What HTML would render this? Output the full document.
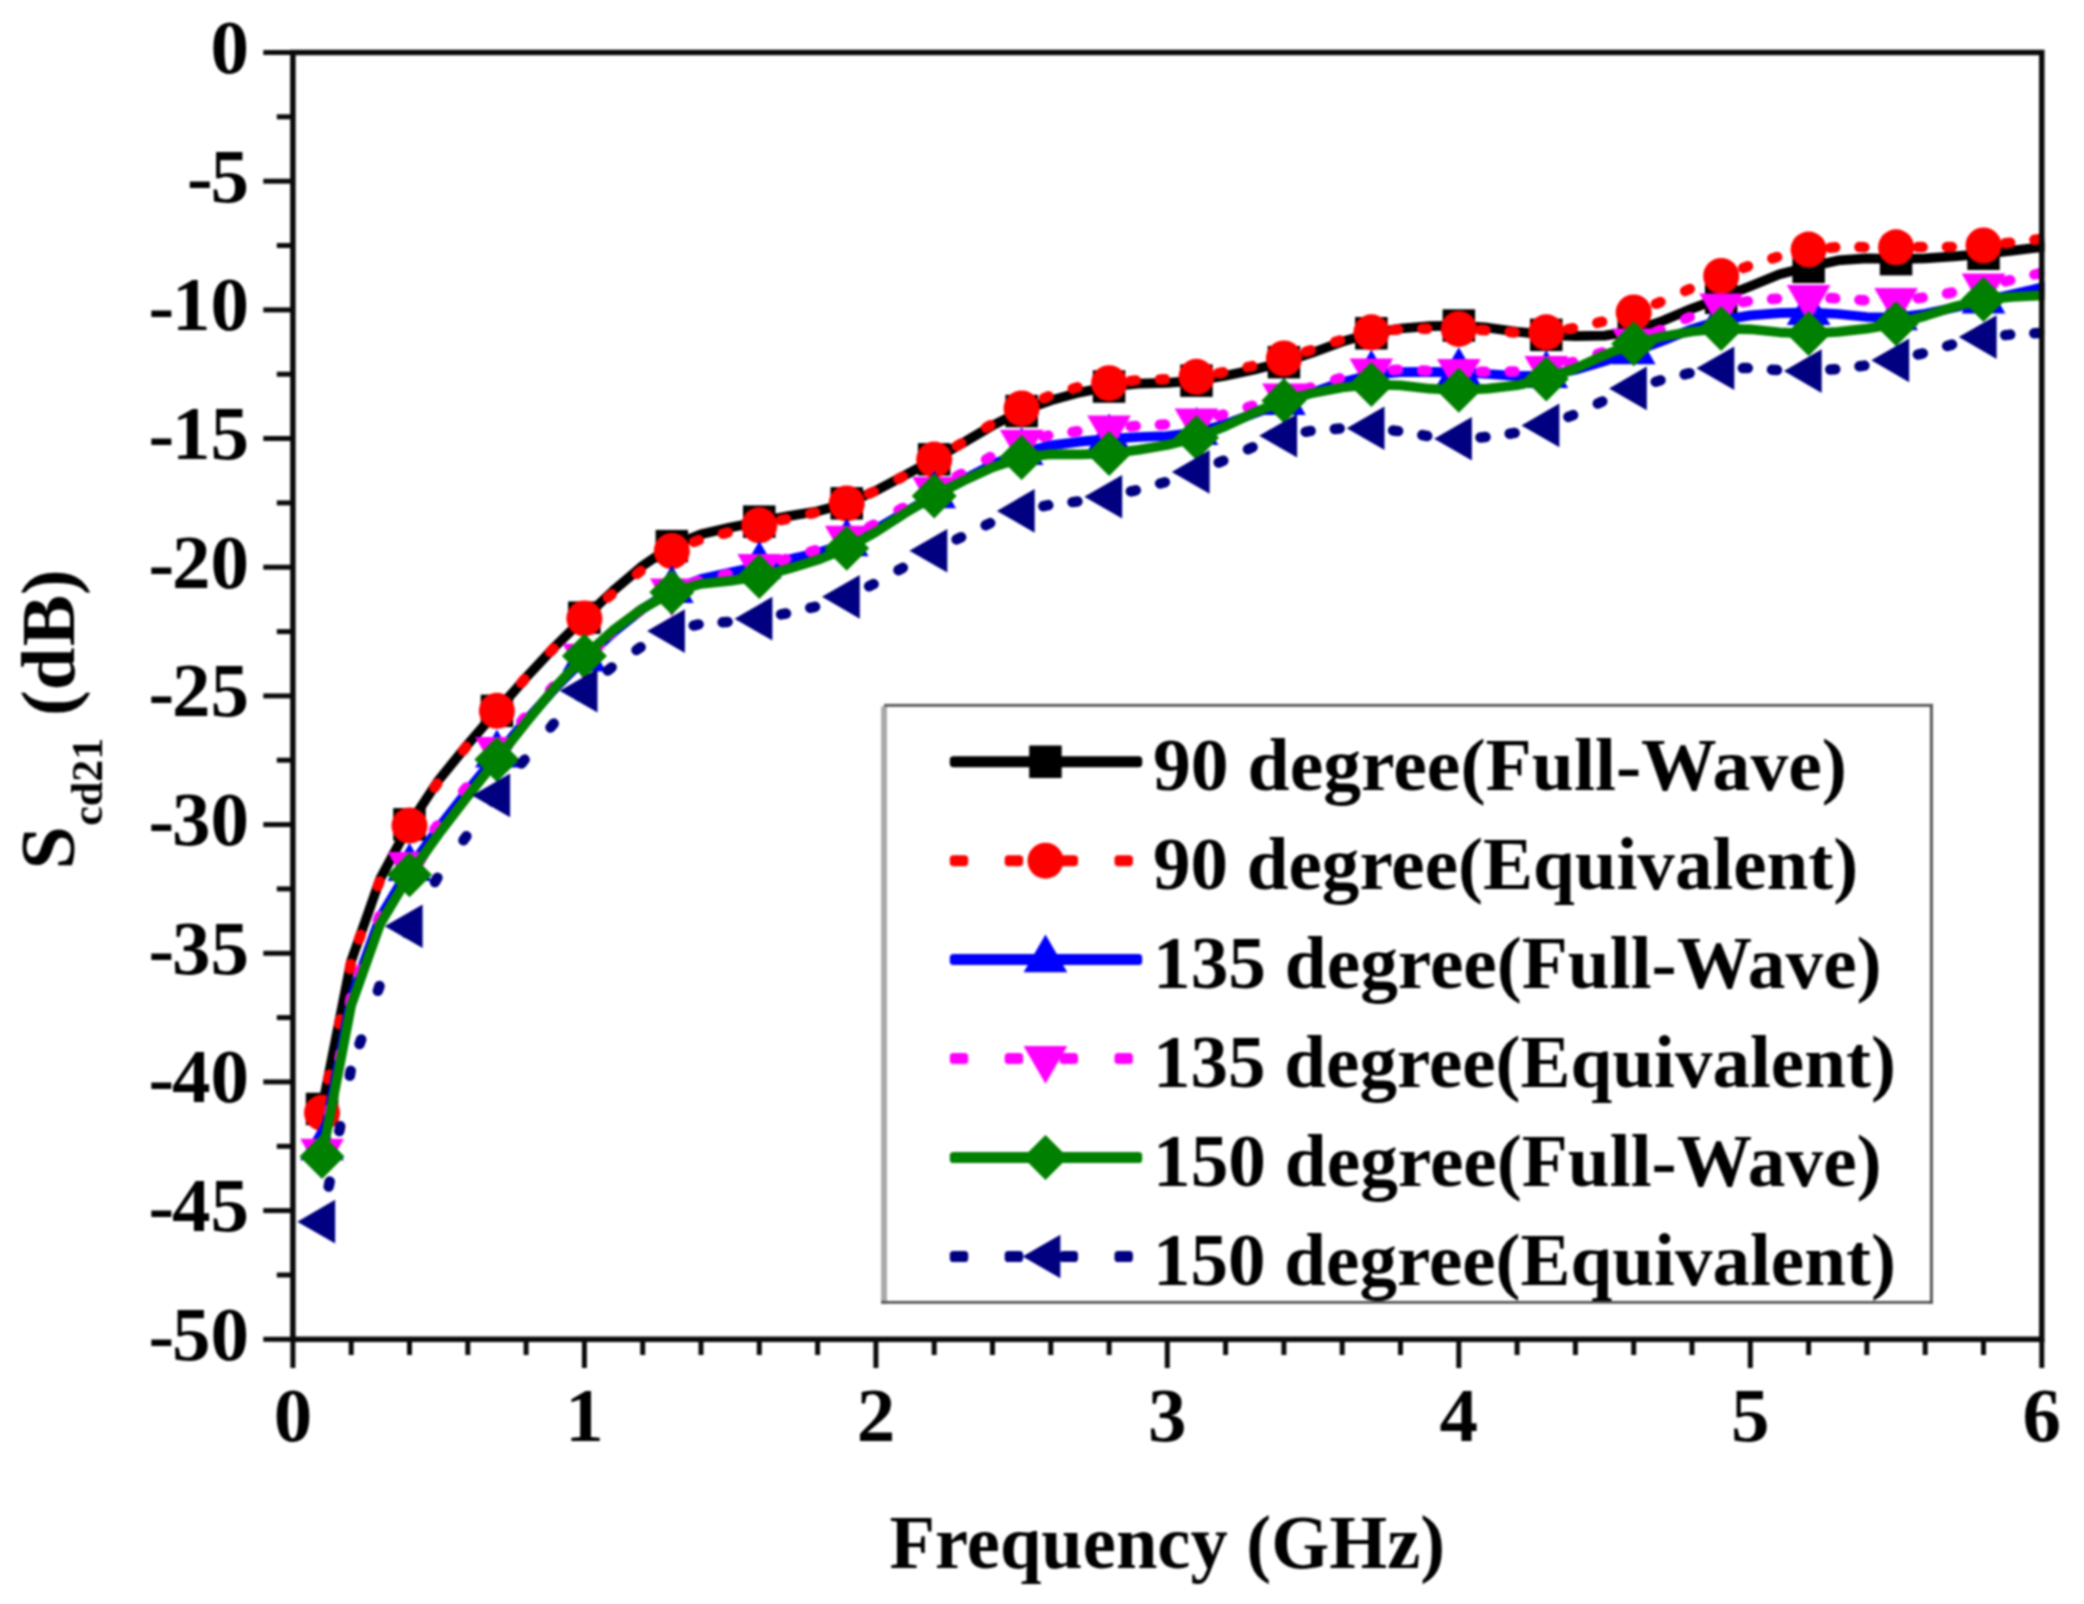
<!DOCTYPE html>
<html lang="en"><head><meta charset="utf-8"><title>Scd21 vs Frequency</title>
<style>html,body{margin:0;padding:0;background:#fff;}svg{display:block;filter:blur(0.8px);}text{font-family:"Liberation Serif","Times New Roman",serif;font-weight:bold;fill:#000;}</style>
</head><body>
<svg width="2084" height="1604" viewBox="0 0 2084 1604">
<rect width="2084" height="1604" fill="#fff"/>
<defs><clipPath id="plotclip"><rect x="292.9" y="52.5" width="1751.7" height="1286.8"/></clipPath></defs>
<g clip-path="url(#plotclip)">
<path d="M322.0,1109.0L351.2,961.0L380.3,878.6L409.5,824.3L438.6,780.2L467.8,744.4L496.9,710.8L526.1,677.5L555.2,646.4L584.4,617.7L613.5,590.5L642.7,565.7L671.8,546.1L701.0,534.2L730.1,527.6L759.3,521.7L788.4,516.1L817.6,511.2L846.7,503.4L875.9,490.8L905.0,475.3L934.2,459.4L963.3,442.7L992.5,425.5L1021.6,411.0L1050.8,400.4L1079.9,392.4L1109.1,386.6L1138.2,383.7L1167.3,382.9L1196.5,380.6L1225.6,375.8L1254.8,369.5L1283.9,362.1L1313.1,352.5L1342.2,341.7L1371.4,333.3L1400.5,328.5L1429.7,326.1L1458.8,325.6L1488.0,327.7L1517.1,331.7L1546.3,334.8L1575.4,336.1L1604.6,335.6L1633.7,331.0L1662.9,320.7L1692.0,308.6L1721.2,297.8L1750.3,286.2L1779.5,274.3L1808.6,266.9L1837.8,260.4L1866.9,258.4L1896.1,259.2L1925.2,258.4L1954.4,256.4L1983.5,253.8L2012.7,250.6L2041.8,247.1L2070.9,243.7" fill="none" stroke="#000000" stroke-width="9.7" stroke-linejoin="round"/>
<rect x="305.8" y="1092.7" width="32.5" height="32.5" fill="#000000"/>
<rect x="393.2" y="808.1" width="32.5" height="32.5" fill="#000000"/>
<rect x="480.7" y="694.6" width="32.5" height="32.5" fill="#000000"/>
<rect x="568.1" y="601.4" width="32.5" height="32.5" fill="#000000"/>
<rect x="655.6" y="529.9" width="32.5" height="32.5" fill="#000000"/>
<rect x="743.0" y="505.4" width="32.5" height="32.5" fill="#000000"/>
<rect x="830.5" y="487.1" width="32.5" height="32.5" fill="#000000"/>
<rect x="917.9" y="443.1" width="32.5" height="32.5" fill="#000000"/>
<rect x="1005.4" y="394.8" width="32.5" height="32.5" fill="#000000"/>
<rect x="1092.8" y="370.3" width="32.5" height="32.5" fill="#000000"/>
<rect x="1180.2" y="364.4" width="32.5" height="32.5" fill="#000000"/>
<rect x="1267.7" y="345.9" width="32.5" height="32.5" fill="#000000"/>
<rect x="1355.1" y="317.0" width="32.5" height="32.5" fill="#000000"/>
<rect x="1442.6" y="309.3" width="32.5" height="32.5" fill="#000000"/>
<rect x="1530.0" y="318.6" width="32.5" height="32.5" fill="#000000"/>
<rect x="1617.5" y="314.7" width="32.5" height="32.5" fill="#000000"/>
<rect x="1704.9" y="281.5" width="32.5" height="32.5" fill="#000000"/>
<rect x="1792.4" y="250.6" width="32.5" height="32.5" fill="#000000"/>
<rect x="1879.8" y="242.9" width="32.5" height="32.5" fill="#000000"/>
<rect x="1967.3" y="237.5" width="32.5" height="32.5" fill="#000000"/>
<path d="M350.7,964.0L349.8,968.9M340.1,1019.3L339.1,1024.2M329.4,1074.7L328.4,1079.6M379.5,881.5L377.8,886.2M360.7,934.7L359.0,939.4M408.3,827.8L405.9,832.2M437.3,783.5L434.5,787.7M466.2,746.8L463.1,750.7M495.3,712.7L492.1,716.5M524.4,679.3L521.2,683.1M553.5,648.4L550.1,652.0M582.6,620.2L579.0,623.6M611.7,594.2L607.9,597.5M640.7,571.0L636.8,574.1M669.7,552.3L665.5,555.0M698.7,540.1L694.0,542.0M727.7,532.6L722.8,533.8M756.8,525.8L752.0,527.0M786.0,519.1L781.1,520.2M815.1,512.7L810.2,513.8M844.3,504.1L839.5,505.6M873.6,491.7L869.0,493.7M902.8,476.7L898.4,479.0M932.0,460.8L927.6,463.2M961.2,443.4L956.9,446.0M990.3,425.2L986.1,427.8M1019.4,409.6L1015.0,411.9M1048.5,396.3L1043.9,398.4M1077.5,387.3L1072.7,388.7M1106.6,383.5L1101.6,384.1M1135.7,380.4L1130.7,380.9M1164.9,379.2L1159.9,379.4M1194.0,377.0L1189.0,377.4M1223.2,372.3L1218.3,373.1M1252.4,366.1L1247.5,367.2M1281.5,359.1L1276.7,360.3M1310.7,350.2L1305.9,351.7M1339.9,340.4L1335.1,342.0M1369.0,332.9L1364.1,334.1M1398.1,329.5L1393.1,330.0M1427.2,328.7L1422.2,328.8M1456.3,328.9L1451.3,328.8M1485.5,330.3L1480.5,330.0M1514.6,332.4L1509.7,332.0M1543.8,332.3L1538.8,332.3M1573.0,328.3L1568.0,329.1M1602.1,321.7L1597.3,322.9M1631.3,313.1L1626.5,314.6M1660.5,302.0L1655.9,303.8M1689.7,289.0L1685.2,291.0M1718.9,276.8L1714.2,278.8M1748.0,266.3L1743.3,268.0M1777.1,257.0L1772.3,258.5M1806.2,250.2L1801.3,251.3M1835.3,247.3L1830.3,247.7M1864.4,247.2L1859.4,247.1M1893.6,247.3L1888.6,247.3M1922.7,247.1L1917.7,247.1M1951.9,246.9L1946.9,246.9M1981.0,245.6L1976.0,245.9M2010.2,242.7L2005.2,243.2M2039.3,239.1L2034.4,239.8M2068.5,235.8L2063.5,236.3" fill="none" stroke="#ff0000" stroke-width="10.5" stroke-linecap="round"/>
<circle cx="322.0" cy="1112.8" r="18.0" fill="#ff0000"/>
<circle cx="409.5" cy="825.6" r="18.0" fill="#ff0000"/>
<circle cx="496.9" cy="710.8" r="18.0" fill="#ff0000"/>
<circle cx="584.4" cy="618.4" r="18.0" fill="#ff0000"/>
<circle cx="671.8" cy="551.0" r="18.0" fill="#ff0000"/>
<circle cx="759.3" cy="525.3" r="18.0" fill="#ff0000"/>
<circle cx="846.7" cy="503.4" r="18.0" fill="#ff0000"/>
<circle cx="934.2" cy="459.6" r="18.0" fill="#ff0000"/>
<circle cx="1021.6" cy="408.4" r="18.0" fill="#ff0000"/>
<circle cx="1109.1" cy="383.2" r="18.0" fill="#ff0000"/>
<circle cx="1196.5" cy="376.8" r="18.0" fill="#ff0000"/>
<circle cx="1283.9" cy="358.5" r="18.0" fill="#ff0000"/>
<circle cx="1371.4" cy="332.3" r="18.0" fill="#ff0000"/>
<circle cx="1458.8" cy="328.9" r="18.0" fill="#ff0000"/>
<circle cx="1546.3" cy="332.3" r="18.0" fill="#ff0000"/>
<circle cx="1633.7" cy="312.4" r="18.0" fill="#ff0000"/>
<circle cx="1721.2" cy="275.9" r="18.0" fill="#ff0000"/>
<circle cx="1808.6" cy="249.6" r="18.0" fill="#ff0000"/>
<circle cx="1896.1" cy="247.3" r="18.0" fill="#ff0000"/>
<circle cx="1983.5" cy="245.5" r="18.0" fill="#ff0000"/>
<path d="M322.0,1147.6L351.2,997.6L380.3,916.9L409.5,868.3L438.6,827.8L467.8,790.4L496.9,754.8L526.1,720.5L555.2,688.2L584.4,658.8L613.5,632.3L642.7,608.9L671.8,590.4L701.0,579.0L730.1,572.5L759.3,566.2L788.4,559.5L817.6,552.9L846.7,543.5L875.9,529.3L905.0,512.2L934.2,495.7L963.3,479.8L992.5,464.5L1021.6,452.4L1050.8,445.4L1079.9,441.7L1109.1,438.8L1138.2,437.0L1167.3,436.0L1196.5,432.4L1225.6,424.1L1254.8,413.2L1283.9,402.5L1313.1,392.2L1342.2,382.2L1371.4,375.0L1400.5,372.1L1429.7,371.9L1458.8,372.4L1488.0,374.0L1517.1,376.2L1546.3,375.5L1575.4,369.8L1604.6,361.1L1633.7,351.6L1662.9,340.8L1692.0,329.1L1721.2,320.2L1750.3,315.4L1779.5,313.2L1808.6,312.4L1837.8,314.0L1866.9,317.0L1896.1,317.6L1925.2,313.8L1954.4,307.5L1983.5,300.9L2012.7,294.3L2041.8,287.5L2070.9,280.8" fill="none" stroke="#0000ff" stroke-width="9.7" stroke-linejoin="round"/>
<polygon points="322.0,1122.3 300.2,1160.2 343.9,1160.2" fill="#0000ff"/>
<polygon points="409.5,843.1 387.6,880.9 431.3,880.9" fill="#0000ff"/>
<polygon points="496.9,729.6 475.1,767.5 518.8,767.5" fill="#0000ff"/>
<polygon points="584.4,633.6 562.5,671.5 606.2,671.5" fill="#0000ff"/>
<polygon points="671.8,565.2 650.0,603.0 693.7,603.0" fill="#0000ff"/>
<polygon points="759.3,541.0 737.4,578.8 781.1,578.8" fill="#0000ff"/>
<polygon points="846.7,518.3 824.9,556.2 868.6,556.2" fill="#0000ff"/>
<polygon points="934.2,470.4 912.3,508.3 956.0,508.3" fill="#0000ff"/>
<polygon points="1021.6,427.2 999.8,465.1 1043.5,465.1" fill="#0000ff"/>
<polygon points="1109.1,413.6 1087.2,451.4 1130.9,451.4" fill="#0000ff"/>
<polygon points="1196.5,407.1 1174.6,445.0 1218.3,445.0" fill="#0000ff"/>
<polygon points="1283.9,377.3 1262.1,415.1 1305.8,415.1" fill="#0000ff"/>
<polygon points="1371.4,349.7 1349.5,387.6 1393.2,387.6" fill="#0000ff"/>
<polygon points="1458.8,347.2 1437.0,385.0 1480.7,385.0" fill="#0000ff"/>
<polygon points="1546.3,350.3 1524.4,388.1 1568.1,388.1" fill="#0000ff"/>
<polygon points="1633.7,326.3 1611.9,364.2 1655.6,364.2" fill="#0000ff"/>
<polygon points="1721.2,294.9 1699.3,332.8 1743.0,332.8" fill="#0000ff"/>
<polygon points="1808.6,287.2 1786.8,325.0 1830.5,325.0" fill="#0000ff"/>
<polygon points="1896.1,292.4 1874.2,330.2 1917.9,330.2" fill="#0000ff"/>
<polygon points="1983.5,275.6 1961.7,313.5 2005.4,313.5" fill="#0000ff"/>
<path d="M350.7,997.9L349.8,1002.8M340.4,1053.4L339.5,1058.3M330.0,1108.8L329.1,1113.7M379.5,916.0L377.8,920.7M360.6,969.1L358.9,973.8M408.2,866.6L405.7,870.9M437.2,825.6L434.3,829.6M466.3,787.4L463.2,791.4M495.4,751.6L492.2,755.5M524.5,717.8L521.2,721.6M553.5,686.4L550.1,690.0M582.6,658.0L579.0,661.5M611.6,632.6L607.9,635.9M640.7,610.3L636.7,613.3M669.7,592.4L665.4,595.0M698.6,581.0L694.0,582.8M727.7,574.2L722.8,575.3M756.8,567.3L752.0,568.4M786.0,559.0L781.2,560.4M815.2,550.2L810.4,551.7M844.4,539.3L839.7,541.1M873.6,524.8L869.2,527.0M902.9,507.9L898.5,510.4M932.0,491.0L927.7,493.5M961.2,473.9L956.8,476.4M990.3,457.0L986.0,459.5M1019.3,443.4L1014.8,445.5M1048.3,435.5L1043.5,436.8M1077.4,431.3L1072.5,432.0M1106.6,428.2L1101.6,428.8M1135.7,426.0L1130.7,426.4M1164.9,424.5L1159.9,424.8M1194.0,421.3L1189.0,421.9M1223.2,414.6L1218.4,415.8M1252.4,405.8L1247.6,407.3M1281.6,396.8L1276.8,398.3M1310.7,387.6L1305.9,389.1M1339.9,378.3L1335.1,379.8M1368.9,371.7L1364.1,372.7M1398.0,369.7L1393.0,369.9M1427.2,370.7L1422.2,370.5M1456.3,371.6L1451.3,371.4M1485.5,371.8L1480.5,371.7M1514.6,371.5L1509.6,371.6M1543.8,368.8L1538.8,369.3M1573.0,362.0L1568.1,363.2M1602.2,352.4L1597.5,354.0M1631.4,341.9L1626.7,343.6M1660.6,329.9L1655.9,331.8M1689.7,317.0L1685.2,319.0M1718.8,306.8L1714.1,308.4M1747.9,301.2L1742.9,302.1M1777.0,298.7L1772.0,299.1M1806.1,297.6L1801.1,297.8M1835.3,298.3L1830.3,298.1M1864.4,300.3L1859.4,299.9M1893.6,300.6L1888.6,300.6M1922.7,297.6L1917.8,298.2M1951.9,292.6L1947.0,293.5M1981.1,286.7L1976.2,287.7M2010.2,280.2L2005.3,281.3M2039.4,273.4L2034.5,274.5M2068.5,266.7L2063.6,267.8" fill="none" stroke="#ff00ff" stroke-width="10.5" stroke-linecap="round"/>
<polygon points="322.0,1176.7 300.2,1138.8 343.9,1138.8" fill="#ff00ff"/>
<polygon points="409.5,889.7 387.6,851.9 431.3,851.9" fill="#ff00ff"/>
<polygon points="496.9,774.9 475.1,737.1 518.8,737.1" fill="#ff00ff"/>
<polygon points="584.4,681.5 562.5,643.7 606.2,643.7" fill="#ff00ff"/>
<polygon points="671.8,616.4 650.0,578.5 693.7,578.5" fill="#ff00ff"/>
<polygon points="759.3,591.9 737.4,554.1 781.1,554.1" fill="#ff00ff"/>
<polygon points="846.7,563.6 824.9,525.8 868.6,525.8" fill="#ff00ff"/>
<polygon points="934.2,515.0 912.3,477.1 956.0,477.1" fill="#ff00ff"/>
<polygon points="1021.6,467.6 999.8,429.8 1043.5,429.8" fill="#ff00ff"/>
<polygon points="1109.1,453.2 1087.2,415.4 1130.9,415.4" fill="#ff00ff"/>
<polygon points="1196.5,446.3 1174.6,408.4 1218.3,408.4" fill="#ff00ff"/>
<polygon points="1283.9,421.3 1262.1,383.5 1305.8,383.5" fill="#ff00ff"/>
<polygon points="1371.4,396.3 1349.5,358.5 1393.2,358.5" fill="#ff00ff"/>
<polygon points="1458.8,396.9 1437.0,359.0 1480.7,359.0" fill="#ff00ff"/>
<polygon points="1546.3,393.8 1524.4,355.9 1568.1,355.9" fill="#ff00ff"/>
<polygon points="1633.7,366.2 1611.9,328.4 1655.6,328.4" fill="#ff00ff"/>
<polygon points="1721.2,331.2 1699.3,293.4 1743.0,293.4" fill="#ff00ff"/>
<polygon points="1808.6,322.7 1786.8,284.9 1830.5,284.9" fill="#ff00ff"/>
<polygon points="1896.1,325.8 1874.2,288.0 1917.9,288.0" fill="#ff00ff"/>
<polygon points="1983.5,311.4 1961.7,273.6 2005.4,273.6" fill="#ff00ff"/>
<path d="M322.0,1156.6L351.2,1005.4L380.3,923.7L409.5,874.8L438.6,834.1L467.8,796.1L496.9,759.5L526.1,722.6L555.2,687.1L584.4,656.0L613.5,630.0L642.7,608.4L671.8,592.2L701.0,583.9L730.1,580.9L759.3,576.5L788.4,568.9L817.6,559.9L846.7,548.2L875.9,532.0L905.0,513.2L934.2,495.9L963.3,480.9L992.5,467.3L1021.6,457.6L1050.8,454.1L1079.9,454.4L1109.1,453.5L1138.2,449.9L1167.3,445.0L1196.5,437.8L1225.6,426.2L1254.8,412.3L1283.9,400.7L1313.1,392.9L1342.2,387.5L1371.4,384.5L1400.5,385.4L1429.7,388.7L1458.8,390.2L1488.0,388.6L1517.1,385.2L1546.3,379.1L1575.4,368.4L1604.6,355.0L1633.7,343.8L1662.9,336.5L1692.0,331.5L1721.2,328.6L1750.3,329.3L1779.5,332.3L1808.6,333.5L1837.8,331.9L1866.9,328.6L1896.1,323.8L1925.2,316.0L1954.4,306.6L1983.5,299.6L2012.7,296.9L2041.8,295.4L2070.9,293.4" fill="none" stroke="#008000" stroke-width="9.7" stroke-linejoin="round"/>
<polygon points="322.0,1134.1 344.5,1156.6 322.0,1179.1 299.5,1156.6" fill="#008000"/>
<polygon points="409.5,852.3 432.0,874.8 409.5,897.3 387.0,874.8" fill="#008000"/>
<polygon points="496.9,737.0 519.4,759.5 496.9,782.0 474.4,759.5" fill="#008000"/>
<polygon points="584.4,633.5 606.9,656.0 584.4,678.5 561.9,656.0" fill="#008000"/>
<polygon points="671.8,569.7 694.3,592.2 671.8,614.7 649.3,592.2" fill="#008000"/>
<polygon points="759.3,554.0 781.8,576.5 759.3,599.0 736.8,576.5" fill="#008000"/>
<polygon points="846.7,525.7 869.2,548.2 846.7,570.7 824.2,548.2" fill="#008000"/>
<polygon points="934.2,473.4 956.7,495.9 934.2,518.4 911.7,495.9" fill="#008000"/>
<polygon points="1021.6,435.1 1044.1,457.6 1021.6,480.1 999.1,457.6" fill="#008000"/>
<polygon points="1109.1,431.0 1131.6,453.5 1109.1,476.0 1086.6,453.5" fill="#008000"/>
<polygon points="1196.5,415.3 1219.0,437.8 1196.5,460.3 1174.0,437.8" fill="#008000"/>
<polygon points="1283.9,378.2 1306.4,400.7 1283.9,423.2 1261.4,400.7" fill="#008000"/>
<polygon points="1371.4,362.0 1393.9,384.5 1371.4,407.0 1348.9,384.5" fill="#008000"/>
<polygon points="1458.8,367.7 1481.3,390.2 1458.8,412.7 1436.3,390.2" fill="#008000"/>
<polygon points="1546.3,356.6 1568.8,379.1 1546.3,401.6 1523.8,379.1" fill="#008000"/>
<polygon points="1633.7,321.3 1656.2,343.8 1633.7,366.3 1611.2,343.8" fill="#008000"/>
<polygon points="1721.2,306.1 1743.7,328.6 1721.2,351.1 1698.7,328.6" fill="#008000"/>
<polygon points="1808.6,311.0 1831.1,333.5 1808.6,356.0 1786.1,333.5" fill="#008000"/>
<polygon points="1896.1,301.3 1918.6,323.8 1896.1,346.3 1873.6,323.8" fill="#008000"/>
<polygon points="1983.5,277.1 2006.0,299.6 1983.5,322.1 1961.0,299.6" fill="#008000"/>
<path d="M350.7,1070.8L349.8,1075.7M340.2,1126.2L339.3,1131.1M329.7,1181.6L328.7,1186.5M379.5,986.0L377.9,990.8M361.2,1039.4L359.5,1044.1M408.4,928.5L406.1,932.9M437.4,877.7L434.9,882.1M466.4,836.2L463.5,840.3M495.4,797.5L492.4,801.5M524.6,759.6L521.5,763.6M553.7,723.6L550.5,727.5M582.7,692.6L579.2,696.2M611.6,667.4L607.8,670.6M640.6,647.2L636.5,650.0M669.6,632.2L665.1,634.4M698.6,624.4L693.7,625.6M727.6,621.9L722.6,622.3M756.8,619.0L751.8,619.5M786.0,613.5L781.1,614.4M815.1,606.8L810.3,607.9M844.3,597.6L839.6,599.1M873.6,584.1L869.1,586.2M902.8,567.8L898.5,570.2M932.0,551.9L927.6,554.3M961.1,537.2L956.6,539.4M990.2,523.1L985.7,525.3M1019.3,511.8L1014.6,513.5M1048.3,505.1L1043.4,506.2M1077.4,501.5L1072.5,502.1M1106.6,497.1L1101.6,497.9M1135.8,490.3L1130.9,491.4M1164.9,482.2L1160.1,483.5M1194.1,472.8L1189.4,474.3M1223.3,460.7L1218.7,462.6M1252.5,447.2L1248.0,449.3M1281.6,436.5L1276.9,438.2M1310.6,430.9L1305.7,431.8M1339.7,428.5L1334.8,428.9M1368.9,428.3L1363.9,428.3M1398.1,431.1L1393.1,430.5M1427.2,436.0L1422.3,435.1M1456.3,438.6L1451.4,438.2M1485.5,437.1L1480.5,437.5M1514.7,432.9L1509.7,433.7M1543.8,426.0L1539.0,427.2M1573.1,415.1L1568.4,416.9M1602.3,401.4L1597.8,403.5M1631.4,389.3L1626.8,391.2M1660.5,380.3L1655.7,381.7M1689.6,373.2L1684.7,374.4M1718.7,368.7L1713.8,369.4M1747.8,368.1L1742.8,368.1M1777.0,370.1L1772.0,369.7M1806.1,371.0L1801.1,370.9M1835.3,369.2L1830.3,369.5M1864.4,365.6L1859.5,366.3M1893.6,360.7L1888.7,361.6M1922.8,353.4L1917.9,354.6M1952.0,344.6L1947.2,346.0M1981.1,337.7L1976.2,338.8M2010.2,334.6L2005.2,335.1M2039.3,332.9L2034.3,333.2M2068.5,330.8L2063.5,331.1" fill="none" stroke="#000080" stroke-width="10.5" stroke-linecap="round"/>
<polygon points="297.3,1221.7 335.2,1199.8 335.2,1243.5" fill="#000080"/>
<polygon points="384.8,926.2 422.6,904.4 422.6,948.1" fill="#000080"/>
<polygon points="472.2,795.5 510.1,773.6 510.1,817.3" fill="#000080"/>
<polygon points="559.7,690.8 597.5,668.9 597.5,712.6" fill="#000080"/>
<polygon points="647.1,631.0 684.9,609.2 684.9,652.9" fill="#000080"/>
<polygon points="734.5,618.7 772.4,596.8 772.4,640.5" fill="#000080"/>
<polygon points="822.0,596.8 859.8,575.0 859.8,618.7" fill="#000080"/>
<polygon points="909.4,550.7 947.3,528.9 947.3,572.6" fill="#000080"/>
<polygon points="996.9,510.9 1034.7,489.0 1034.7,532.7" fill="#000080"/>
<polygon points="1084.3,496.7 1122.2,474.9 1122.2,518.6" fill="#000080"/>
<polygon points="1171.8,472.0 1209.6,450.1 1209.6,493.8" fill="#000080"/>
<polygon points="1259.2,435.7 1297.1,413.9 1297.1,457.6" fill="#000080"/>
<polygon points="1346.7,428.2 1384.5,406.4 1384.5,450.1" fill="#000080"/>
<polygon points="1434.1,438.8 1471.9,416.9 1471.9,460.6" fill="#000080"/>
<polygon points="1521.5,425.4 1559.4,403.6 1559.4,447.3" fill="#000080"/>
<polygon points="1609.0,388.4 1646.8,366.5 1646.8,410.2" fill="#000080"/>
<polygon points="1696.4,368.3 1734.3,346.4 1734.3,390.1" fill="#000080"/>
<polygon points="1783.9,371.1 1821.7,349.3 1821.7,393.0" fill="#000080"/>
<polygon points="1871.3,360.3 1909.2,338.5 1909.2,382.2" fill="#000080"/>
<polygon points="1958.8,337.1 1996.6,315.3 1996.6,359.0" fill="#000080"/>
</g>
<g stroke="#0a0a0a" fill="none">
<rect x="292.9" y="52.5" width="1748.9" height="1286.8" stroke-width="5.5"/>
<line x1="263.3" x2="292.9" y1="52.5" y2="52.5" stroke-width="5.0"/>
<line x1="276.8" x2="292.9" y1="116.8" y2="116.8" stroke-width="5.0"/>
<line x1="263.3" x2="292.9" y1="181.2" y2="181.2" stroke-width="5.0"/>
<line x1="276.8" x2="292.9" y1="245.5" y2="245.5" stroke-width="5.0"/>
<line x1="263.3" x2="292.9" y1="309.9" y2="309.9" stroke-width="5.0"/>
<line x1="276.8" x2="292.9" y1="374.2" y2="374.2" stroke-width="5.0"/>
<line x1="263.3" x2="292.9" y1="438.5" y2="438.5" stroke-width="5.0"/>
<line x1="276.8" x2="292.9" y1="502.9" y2="502.9" stroke-width="5.0"/>
<line x1="263.3" x2="292.9" y1="567.2" y2="567.2" stroke-width="5.0"/>
<line x1="276.8" x2="292.9" y1="631.6" y2="631.6" stroke-width="5.0"/>
<line x1="263.3" x2="292.9" y1="695.9" y2="695.9" stroke-width="5.0"/>
<line x1="276.8" x2="292.9" y1="760.2" y2="760.2" stroke-width="5.0"/>
<line x1="263.3" x2="292.9" y1="824.6" y2="824.6" stroke-width="5.0"/>
<line x1="276.8" x2="292.9" y1="888.9" y2="888.9" stroke-width="5.0"/>
<line x1="263.3" x2="292.9" y1="953.3" y2="953.3" stroke-width="5.0"/>
<line x1="276.8" x2="292.9" y1="1017.6" y2="1017.6" stroke-width="5.0"/>
<line x1="263.3" x2="292.9" y1="1081.9" y2="1081.9" stroke-width="5.0"/>
<line x1="276.8" x2="292.9" y1="1146.3" y2="1146.3" stroke-width="5.0"/>
<line x1="263.3" x2="292.9" y1="1210.6" y2="1210.6" stroke-width="5.0"/>
<line x1="276.8" x2="292.9" y1="1275.0" y2="1275.0" stroke-width="5.0"/>
<line x1="263.3" x2="292.9" y1="1339.3" y2="1339.3" stroke-width="5.0"/>
<line x1="292.9" x2="292.9" y1="1339.3" y2="1368" stroke-width="5.0"/>
<line x1="351.2" x2="351.2" y1="1339.3" y2="1355" stroke-width="5.0"/>
<line x1="409.5" x2="409.5" y1="1339.3" y2="1355" stroke-width="5.0"/>
<line x1="467.8" x2="467.8" y1="1339.3" y2="1355" stroke-width="5.0"/>
<line x1="526.1" x2="526.1" y1="1339.3" y2="1355" stroke-width="5.0"/>
<line x1="584.4" x2="584.4" y1="1339.3" y2="1368" stroke-width="5.0"/>
<line x1="642.7" x2="642.7" y1="1339.3" y2="1355" stroke-width="5.0"/>
<line x1="701.0" x2="701.0" y1="1339.3" y2="1355" stroke-width="5.0"/>
<line x1="759.3" x2="759.3" y1="1339.3" y2="1355" stroke-width="5.0"/>
<line x1="817.6" x2="817.6" y1="1339.3" y2="1355" stroke-width="5.0"/>
<line x1="875.9" x2="875.9" y1="1339.3" y2="1368" stroke-width="5.0"/>
<line x1="934.2" x2="934.2" y1="1339.3" y2="1355" stroke-width="5.0"/>
<line x1="992.5" x2="992.5" y1="1339.3" y2="1355" stroke-width="5.0"/>
<line x1="1050.8" x2="1050.8" y1="1339.3" y2="1355" stroke-width="5.0"/>
<line x1="1109.1" x2="1109.1" y1="1339.3" y2="1355" stroke-width="5.0"/>
<line x1="1167.3" x2="1167.3" y1="1339.3" y2="1368" stroke-width="5.0"/>
<line x1="1225.6" x2="1225.6" y1="1339.3" y2="1355" stroke-width="5.0"/>
<line x1="1283.9" x2="1283.9" y1="1339.3" y2="1355" stroke-width="5.0"/>
<line x1="1342.2" x2="1342.2" y1="1339.3" y2="1355" stroke-width="5.0"/>
<line x1="1400.5" x2="1400.5" y1="1339.3" y2="1355" stroke-width="5.0"/>
<line x1="1458.8" x2="1458.8" y1="1339.3" y2="1368" stroke-width="5.0"/>
<line x1="1517.1" x2="1517.1" y1="1339.3" y2="1355" stroke-width="5.0"/>
<line x1="1575.4" x2="1575.4" y1="1339.3" y2="1355" stroke-width="5.0"/>
<line x1="1633.7" x2="1633.7" y1="1339.3" y2="1355" stroke-width="5.0"/>
<line x1="1692.0" x2="1692.0" y1="1339.3" y2="1355" stroke-width="5.0"/>
<line x1="1750.3" x2="1750.3" y1="1339.3" y2="1368" stroke-width="5.0"/>
<line x1="1808.6" x2="1808.6" y1="1339.3" y2="1355" stroke-width="5.0"/>
<line x1="1866.9" x2="1866.9" y1="1339.3" y2="1355" stroke-width="5.0"/>
<line x1="1925.2" x2="1925.2" y1="1339.3" y2="1355" stroke-width="5.0"/>
<line x1="1983.5" x2="1983.5" y1="1339.3" y2="1355" stroke-width="5.0"/>
<line x1="2041.8" x2="2041.8" y1="1339.3" y2="1368" stroke-width="5.0"/>
</g>
<g font-size="77">
<text x="249" y="72.8" text-anchor="end">0</text>
<text x="249" y="201.5" text-anchor="end"><tspan dy="1.5">-</tspan><tspan dx="-2.1" dy="-1.5">5</tspan></text>
<text x="249" y="330.2" text-anchor="end"><tspan dy="1.5">-</tspan><tspan dx="-2.1" dy="-1.5">10</tspan></text>
<text x="249" y="458.8" text-anchor="end"><tspan dy="1.5">-</tspan><tspan dx="-2.1" dy="-1.5">15</tspan></text>
<text x="249" y="587.5" text-anchor="end"><tspan dy="1.5">-</tspan><tspan dx="-2.1" dy="-1.5">20</tspan></text>
<text x="249" y="716.2" text-anchor="end"><tspan dy="1.5">-</tspan><tspan dx="-2.1" dy="-1.5">25</tspan></text>
<text x="249" y="844.9" text-anchor="end"><tspan dy="1.5">-</tspan><tspan dx="-2.1" dy="-1.5">30</tspan></text>
<text x="249" y="973.6" text-anchor="end"><tspan dy="1.5">-</tspan><tspan dx="-2.1" dy="-1.5">35</tspan></text>
<text x="249" y="1102.2" text-anchor="end"><tspan dy="1.5">-</tspan><tspan dx="-2.1" dy="-1.5">40</tspan></text>
<text x="249" y="1230.9" text-anchor="end"><tspan dy="1.5">-</tspan><tspan dx="-2.1" dy="-1.5">45</tspan></text>
<text x="249" y="1359.6" text-anchor="end"><tspan dy="1.5">-</tspan><tspan dx="-2.1" dy="-1.5">50</tspan></text>
<text x="292.9" y="1441" text-anchor="middle">0</text>
<text x="584.4" y="1441" text-anchor="middle">1</text>
<text x="875.9" y="1441" text-anchor="middle">2</text>
<text x="1167.3" y="1441" text-anchor="middle">3</text>
<text x="1458.8" y="1441" text-anchor="middle">4</text>
<text x="1750.3" y="1441" text-anchor="middle">5</text>
<text x="2041.8" y="1441" text-anchor="middle">6</text>
</g>
<text x="1167.3" y="1567.6" font-size="76.4" text-anchor="middle" textLength="555.5" lengthAdjust="spacingAndGlyphs">Frequency (GHz)</text>
<g transform="translate(74,0) rotate(-90)"><text x="-869.5" y="0" font-size="78">S</text><text x="-825.7" y="28" font-size="44">cd21</text><text x="-716" y="0" font-size="77">(d<tspan dx="1.2">B)</tspan></text></g>
<rect x="884" y="705" width="1047" height="597" fill="#fff"/>
<rect x="881.1" y="706.5" width="5.9" height="597.2" fill="#a8a8a8"/>
<rect x="884" y="703.9" width="1048.9" height="2.9" fill="#585858"/>
<rect x="1929.9" y="703.9" width="3.0" height="599.8" fill="#585858"/>
<rect x="881.1" y="1301.0" width="1051.8" height="2.7" fill="#505050"/>
<rect x="949.8" y="756.2" width="192.4" height="11.0" rx="3.6" fill="#000000"/>
<rect x="1029.2" y="745.5" width="32.5" height="32.5" fill="#000000"/>
<text x="1153" y="789.7" font-size="73.9" textLength="694.0" lengthAdjust="spacingAndGlyphs">90 degree(Full-Wave)</text>
<rect x="949.8" y="855.2" width="18.4" height="11.0" rx="3.6" fill="#ff0000"/>
<rect x="1004.7" y="855.2" width="18.4" height="11.0" rx="3.6" fill="#ff0000"/>
<rect x="1059.6" y="855.2" width="18.4" height="11.0" rx="3.6" fill="#ff0000"/>
<rect x="1114.5" y="855.2" width="18.4" height="11.0" rx="3.6" fill="#ff0000"/>
<circle cx="1045.5" cy="860.7" r="18.0" fill="#ff0000"/>
<text x="1153" y="888.7" font-size="73.9" textLength="705.3" lengthAdjust="spacingAndGlyphs">90 degree(Equivalent)</text>
<rect x="949.8" y="954.1" width="192.4" height="11.0" rx="3.6" fill="#0000ff"/>
<polygon points="1045.5,934.4 1023.6,972.2 1067.3,972.2" fill="#0000ff"/>
<text x="1153" y="987.6" font-size="73.9" textLength="728.7" lengthAdjust="spacingAndGlyphs">135 degree(Full-Wave)</text>
<rect x="949.8" y="1053.1" width="18.4" height="11.0" rx="3.6" fill="#ff00ff"/>
<rect x="1004.7" y="1053.1" width="18.4" height="11.0" rx="3.6" fill="#ff00ff"/>
<rect x="1059.6" y="1053.1" width="18.4" height="11.0" rx="3.6" fill="#ff00ff"/>
<rect x="1114.5" y="1053.1" width="18.4" height="11.0" rx="3.6" fill="#ff00ff"/>
<polygon points="1045.5,1083.8 1023.6,1046.0 1067.3,1046.0" fill="#ff00ff"/>
<text x="1153" y="1086.6" font-size="73.9" textLength="742.9" lengthAdjust="spacingAndGlyphs">135 degree(Equivalent)</text>
<rect x="949.8" y="1152.0" width="192.4" height="11.0" rx="3.6" fill="#008000"/>
<polygon points="1045.5,1135.0 1068.0,1157.5 1045.5,1180.0 1023.0,1157.5" fill="#008000"/>
<text x="1153" y="1185.5" font-size="73.9" textLength="728.7" lengthAdjust="spacingAndGlyphs">150 degree(Full-Wave)</text>
<rect x="949.8" y="1251.0" width="18.4" height="11.0" rx="3.6" fill="#000080"/>
<rect x="1004.7" y="1251.0" width="18.4" height="11.0" rx="3.6" fill="#000080"/>
<rect x="1059.6" y="1251.0" width="18.4" height="11.0" rx="3.6" fill="#000080"/>
<rect x="1114.5" y="1251.0" width="18.4" height="11.0" rx="3.6" fill="#000080"/>
<polygon points="1022.6,1256.5 1060.4,1234.7 1060.4,1278.3" fill="#000080"/>
<text x="1153" y="1284.5" font-size="73.9" textLength="742.9" lengthAdjust="spacingAndGlyphs">150 degree(Equivalent)</text>
</svg>
</body></html>
